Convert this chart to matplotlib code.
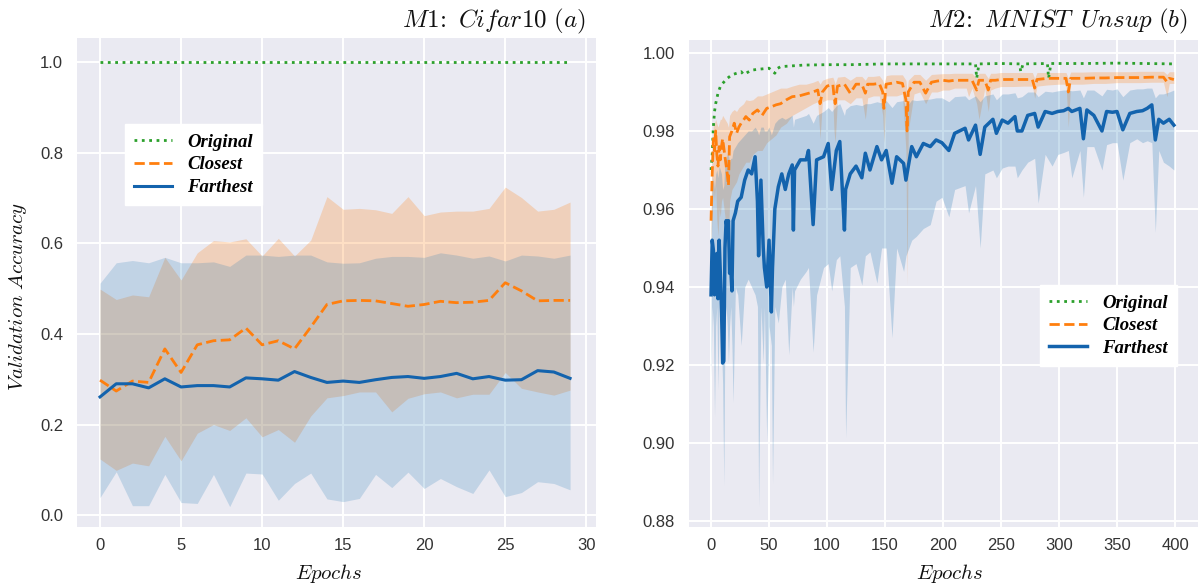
import matplotlib
matplotlib.use('Agg')
import matplotlib.pyplot as plt

# ---------------- data: left panel (M1: Cifar10) ----------------
epochs_a = list(range(30))
orig_a = [1.0] * 30
clo_a = [0.298, 0.274, 0.296, 0.293, 0.367, 0.315, 0.376, 0.385, 0.387, 0.413,
         0.376, 0.385, 0.367, 0.415, 0.465, 0.473, 0.474, 0.473, 0.467, 0.461,
         0.465, 0.472, 0.469, 0.470, 0.474, 0.513, 0.495, 0.473, 0.474, 0.474]
clo_a_lo = [0.124, 0.099, 0.115, 0.109, 0.174, 0.120, 0.181, 0.200, 0.187, 0.215,
            0.173, 0.189, 0.161, 0.219, 0.259, 0.264, 0.272, 0.272, 0.228, 0.258,
            0.268, 0.272, 0.259, 0.267, 0.267, 0.315, 0.280, 0.272, 0.265, 0.276]
clo_a_hi = [0.499, 0.476, 0.486, 0.482, 0.569, 0.519, 0.579, 0.606, 0.603, 0.610,
            0.572, 0.611, 0.572, 0.607, 0.703, 0.675, 0.677, 0.674, 0.666, 0.703,
            0.661, 0.669, 0.671, 0.671, 0.677, 0.724, 0.701, 0.671, 0.675, 0.691]
far_a = [0.261, 0.290, 0.290, 0.281, 0.301, 0.283, 0.286, 0.286, 0.283, 0.303,
         0.301, 0.298, 0.317, 0.304, 0.293, 0.296, 0.293, 0.299, 0.304, 0.306,
         0.302, 0.306, 0.313, 0.301, 0.306, 0.298, 0.299, 0.319, 0.316, 0.302]
far_a_lo = [0.039, 0.096, 0.021, 0.021, 0.090, 0.028, 0.026, 0.090, 0.019, 0.093,
            0.091, 0.033, 0.070, 0.093, 0.036, 0.030, 0.037, 0.090, 0.061, 0.095,
            0.059, 0.081, 0.063, 0.048, 0.100, 0.041, 0.050, 0.074, 0.070, 0.056]
far_a_hi = [0.512, 0.557, 0.562, 0.557, 0.569, 0.557, 0.557, 0.559, 0.549, 0.574,
            0.574, 0.571, 0.574, 0.574, 0.559, 0.556, 0.557, 0.567, 0.571, 0.571,
            0.569, 0.579, 0.574, 0.567, 0.572, 0.561, 0.574, 0.572, 0.567, 0.574]

# ---------------- data: right panel (M2: MNIST Unsup) ----------------
ep_far = [0, 1, 2, 3, 4, 5, 6, 7, 8, 9,
          10, 11, 12, 13, 14, 15, 16, 17, 18, 19,
          21, 23, 26, 29, 32, 35, 38, 40, 41, 43,
          45, 46, 48, 50, 52, 53, 55, 58, 61, 64,
          67, 70, 71, 72, 77, 82, 84, 88, 91, 97,
          101, 104, 108, 111, 115, 116, 120, 125, 130, 133,
          137, 143, 147, 151, 156, 160, 166, 168, 173, 177,
          183, 189, 194, 199, 205, 210, 219, 222, 228, 232,
          236, 243, 246, 251, 256, 262, 264, 268, 273, 279,
          282, 288, 294, 299, 304, 308, 311, 318, 321, 324,
          330, 337, 341, 346, 350, 355, 361, 367, 372, 376,
          380, 383, 386, 390, 395, 399]
far_b = [.938, .952, .9495, .938, .9435, .9486, .937, .952, .9435, .935,
         .9205, .921, .950, .957, .955, .957, .9435, .945, .939, .957,
         .959, .962, .963, .9674, .970, .969, .9734, .962, .948, .9674,
         .950, .945, .940, .952, .9336, .945, .960, .9657, .969, .965,
         .969, .9713, .9546, .970, .9726, .9726, .975, .956, .9726, .9734,
         .9768, .965, .975, .9773, .9546, .965, .969, .971, .968, .9743,
         .970, .976, .9726, .975, .9666, .9734, .9717, .9674, .976, .9734,
         .9768, .976, .9777, .977, .975, .9794, .9807, .9777, .9815, .974,
         .981, .983, .9794, .9828, .982, .9837, .980, .980, .984, .9845,
         .981, .985, .9845, .985, .9852, .9858, .985, .9858, .978, .9854,
         .984, .980, .985, .9848, .985, .9803, .9845, .985, .9852, .9858,
         .9867, .9777, .983, .982, .983, .9815]
far_b_hi = [.955, .966, .968, .965, .969, .970, .968, .971, .970, .969,
            .965, .966, .972, .973, .974, .974, .972, .973, .973, .975,
            .976, .977, .978, .979, .980, .980, .981, .980, .979, .981,
            .981, .980, .980, .981, .979, .980, .982, .983, .9835, .983,
            .9835, .984, .981, .983, .9835, .984, .9845, .982, .984, .985,
            .986, .985, .9865, .987, .984, .9855, .9865, .9868, .9865, .987,
            .987, .9875, .9872, .9878, .986, .9875, .9878, .986, .988, .9878,
            .988, .9882, .9885, .9885, .9875, .9888, .989, .988, .989, .9875,
            .989, .9895, .988, .9895, .9895, .9898, .9885, .9888, .990, .990,
            .9888, .9902, .990, .9903, .9905, .9905, .9903, .9905, .9885, .9905,
            .9905, .989, .9907, .9905, .9908, .9888, .9905, .9908, .9908, .991,
            .991, .9885, .9895, .9895, .990, .9905]
far_b_lo = [.917, .935, .930, .9067, .930, .935, .9136, .935, .930, .925,
            .915, .889, .930, .935, .930, .9205, .930, .935, .925, .9103,
            .940, .938, .925, .940, .942, .940, .938, .935, .8835, .935,
            .9205, .935, .9005, .930, .925, .8895, .935, .9308, .940, .942,
            .9226, .940, .935, .939, .942, .944, .945, .9233, .938, .945,
            .946, .939, .947, .948, .935, .9013, .945, .946, .9405, .948,
            .949, .941, .950, .950, .927, .950, .944, .948, .952, .953,
            .955, .956, .962, .963, .958, .965, .966, .959, .966, .950,
            .969, .970, .968, .9705, .971, .971, .968, .970, .972, .973,
            .9615, .974, .971, .974, .9745, .975, .968, .975, .963, .976,
            .976, .970, .9765, .977, .977, .9674, .977, .978, .977, .9775,
            .977, .954, .975, .972, .971, .970]

ep_clo = [0, 1, 2, 3, 4, 5, 6, 7, 8, 9,
          10, 12, 14, 15, 16, 18, 20, 22, 24, 26,
          28, 30, 33, 36, 40, 44, 48, 52, 56, 60,
          65, 70, 76, 82, 88, 92, 94, 96, 100, 105,
          106, 107, 109, 115, 120, 125, 130, 133, 135, 140,
          145, 148, 149, 151, 155, 160, 165, 168, 169, 170,
          175, 180, 185, 190, 195, 200, 205, 210, 215, 220,
          222, 225, 229, 231, 236, 239, 241, 245, 250, 260,
          270, 277, 279, 281, 290, 300, 306, 308, 310, 320,
          330, 340, 350, 360, 370, 380, 390, 393, 395, 399]
clo_b = [.957, .969, .978, .975, .980, .974, .971, .976, .9726, .976,
         .978, .9734, .969, .966, .9785, .980, .982, .9794, .981, .982,
         .9828, .9837, .9828, .9845, .9854, .984, .9858, .9862, .9867, .987,
         .988, .9888, .989, .9895, .990, .9905, .987, .990, .9915, .992,
         .989, .987, .9915, .992, .9897, .992, .992, .9897, .992, .992,
         .9922, .990, .9858, .992, .9922, .9925, .9922, .988, .980, .990,
         .9925, .9925, .9897, .9925, .9928, .993, .9928, .993, .993, .993,
         .993, .993, .9905, .993, .993, .9905, .993, .993, .9932, .9932,
         .9932, .9932, .991, .9932, .9935, .9935, .9935, .990, .9935, .9935,
         .9936, .9936, .9937, .9937, .9937, .9938, .9938, .9926, .9935, .9932]
clo_b_hi = [.962, .975, .982, .982, .983, .982, .981, .982, .983, .983,
            .984, .983, .982, .981, .984, .985, .9855, .985, .986, .9865,
            .987, .988, .9878, .988, .989, .989, .9895, .990, .9905, .991,
            .991, .9915, .992, .992, .9925, .993, .992, .993, .9935, .9938,
            .993, .992, .9938, .994, .993, .994, .994, .993, .994, .994,
            .9942, .993, .992, .9942, .9944, .9944, .9944, .993, .990, .993,
            .9945, .9945, .993, .9945, .9946, .9947, .9947, .9948, .9948, .9948,
            .9948, .9948, .9935, .9948, .9948, .9935, .9948, .9948, .995, .995,
            .995, .995, .9935, .995, .995, .995, .995, .9935, .9951, .9951,
            .9952, .9952, .9952, .9952, .9953, .9953, .9953, .9945, .9952, .9952]
clo_b_lo = [.950, .960, .965, .962, .966, .957, .953, .960, .958, .962,
            .963, .958, .950, .952, .962, .965, .966, .967, .969, .970,
            .971, .972, .972, .974, .975, .975, .977, .978, .979, .981,
            .982, .984, .985, .986, .987, .9875, .978, .9875, .988, .988,
            .980, .977, .988, .988, .987, .9885, .9885, .983, .9885, .989,
            .989, .984, .977, .989, .989, .989, .9895, .975, .9405, .980,
            .9895, .990, .987, .990, .990, .9905, .9905, .991, .991, .991,
            .9888, .991, .987, .983, .991, .985, .9905, .991, .9914, .9914,
            .9915, .9915, .9884, .9915, .9918, .992, .992, .981, .992, .992,
            .9922, .9922, .9924, .9924, .9924, .9925, .9925, .9888, .9922, .9922]

ep_orig = [0, 1, 2, 3, 4, 6, 8, 10, 14, 18,
           22, 26, 28, 30, 35, 40, 50, 55, 57, 60,
           70, 80, 100, 120, 150, 180, 200, 228, 229, 231,
           250, 266, 267, 269, 290, 291, 293, 320, 350, 399]
orig_b = [.970, .974, .981, .985, .987, .9897, .9914, .9922, .9935, .9944,
          .9948, .9952, .9945, .9948, .9956, .9958, .9961, .9948, .996, .9965,
          .9967, .9969, .997, .997, .9972, .9972, .9972, .9972, .9935, .9972,
          .9973, .9972, .9952, .9972, .9973, .9935, .9973, .9973, .9974, .9972]

labels = ['Original', 'Closest', 'Farthest']
titles = [r'$M1\!:\ Cifar10\ (a)$', r'$M2\!:\ MNIST\ \,Unsup\ (b)$']
xticks_a = [0, 5, 10, 15, 20, 25, 30]
yticks_a = [0.0, 0.2, 0.4, 0.6, 0.8, 1.0]
xticks_b = [0, 50, 100, 150, 200, 250, 300, 350, 400]
yticks_b = [0.88, 0.90, 0.92, 0.94, 0.96, 0.98, 1.00]

# ---------------- styling ----------------
plt.rcParams['font.family'] = ['Liberation Sans', 'DejaVu Sans']
plt.rcParams['mathtext.fontset'] = 'cm'

GREEN = '#2ca02c'
ORANGE = '#ff7f0e'
BLUE = '#1363ad'
BAND_O = '#ff7f0e'
BAND_B = '#1f77b4'
BG = '#EAEAF2'
TXT = '#333333'

fig = plt.figure(figsize=(11.98, 5.87), dpi=100)


def style(ax):
    ax.set_facecolor(BG)
    ax.grid(True, color='white', lw=1.4)
    ax.set_axisbelow(True)
    for s in ax.spines.values():
        s.set_visible(False)
    ax.tick_params(length=0, labelsize=12, labelcolor=TXT)
    ax.tick_params(axis='y', pad=10)
    ax.tick_params(axis='x', pad=8)


legend_prop = dict(family='Liberation Serif', weight='bold', style='italic', size=13.5)

# ---------- left ----------
ax1 = fig.add_axes([77 / 1198, 60 / 587, 519 / 1198, 489 / 587])
style(ax1)
ax1.fill_between(epochs_a, clo_a_lo, clo_a_hi, color=BAND_O, alpha=0.24, lw=0)
ax1.fill_between(epochs_a, far_a_lo, far_a_hi, color=BAND_B, alpha=0.2, lw=0)
ax1.plot(epochs_a, orig_a, ':', color=GREEN, lw=2.0, label=labels[0])
ax1.plot(epochs_a, clo_a, '--', color=ORANGE, lw=2.0, label=labels[1])
ax1.plot(epochs_a, far_a, '-', color=BLUE, lw=2.2, label=labels[2])
ax1.set_xticks(xticks_a)
ax1.set_yticks(yticks_a)
ax1.set_yticklabels([f'{v:.1f}' for v in yticks_a])
ax1.set_xlim(-1.42, 30.6)
ax1.set_ylim(-0.026, 1.053)
ax1.set_xlabel(r'$Epochs$', fontsize=15, color='#111111')
ax1.xaxis.set_label_coords((329 - 77) / 519, (527 - 562) / 489)
ax1.set_ylabel(r'$Validation\ Accuracy$', fontsize=15, color='#111111')
ax1.yaxis.set_label_coords(-0.093, (527 - 297) / 489)
ax1.legend(loc='upper left', bbox_to_anchor=(0.0925, 0.824), borderaxespad=0,
           prop=legend_prop, frameon=True, fancybox=False, framealpha=1,
           facecolor='white', edgecolor='white', labelspacing=0.3,
           handlelength=2.0, borderpad=0.5)
fig.text(586 / 1198, 1 - 21 / 587, titles[0], fontsize=18,
         ha='right', va='center', color='#111111')

# ---------- right ----------
ax2 = fig.add_axes([689 / 1198, 60 / 587, 509 / 1198, 487 / 587])
style(ax2)
ax2.fill_between(ep_clo, clo_b_lo, clo_b_hi, color=BAND_O, alpha=0.24, lw=0)
ax2.fill_between(ep_far, far_b_lo, far_b_hi, color=BAND_B, alpha=0.24, lw=0)
ax2.plot(ep_orig, orig_b, ':', color=GREEN, lw=2.0, label=labels[0])
ax2.plot(ep_clo, clo_b, '--', color=ORANGE, lw=2.0, label=labels[1])
ax2.plot(ep_far, far_b, '-', color=BLUE, lw=2.5, label=labels[2])
ax2.set_xticks(xticks_b)
ax2.set_yticks(yticks_b)
ax2.set_yticklabels([f'{v:.2f}' for v in yticks_b])
ax2.set_xlim(-19, 419.8)
ax2.set_ylim(0.87846, 1.00333)
ax2.set_xlabel(r'$Epochs$', fontsize=15, color='#111111')
ax2.xaxis.set_label_coords((950 - 689) / 509, (527 - 562) / 487)
ax2.legend(loc='upper right', bbox_to_anchor=(0.9587, 0.4969), borderaxespad=0,
           prop=legend_prop, frameon=True, fancybox=False, framealpha=1,
           facecolor='white', edgecolor='white', labelspacing=0.3,
           handlelength=2.0, borderpad=0.5)
fig.text(1188 / 1198, 1 - 21 / 587, titles[1], fontsize=18,
         ha='right', va='center', color='#111111')

fig.savefig('out.png', dpi=100, facecolor='white')
